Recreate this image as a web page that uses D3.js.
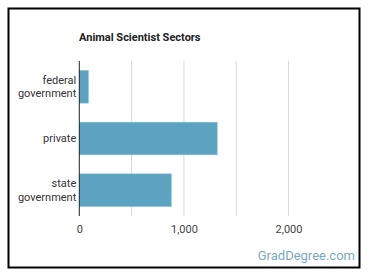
<!DOCTYPE html>
<html><head><meta charset="utf-8">
<script src="https://cdn.jsdelivr.net/npm/d3@7"></script>
<style>body{margin:0;background:#fff;}svg{display:block;}</style>
</head><body>
<script>
const categories = ["federal government", "private", "state government"];
const labelLines = [["federal","government"],["private"],["state","government"]];
const values = [86, 1318, 879];
const tickValues = [0, 1000, 2000];
const gridValues = [500, 1000, 1500, 2000];
const title = "Animal Scientist Sectors";

(function(){
const W = 370, H = 278;
const svg = d3.select("body").append("svg").attr("width", W).attr("height", H);
svg.append("rect").attr("x", 8.5).attr("y", 8.5).attr("width", 351).attr("height", 259)
  .attr("fill", "#fff").attr("stroke", "#000").attr("stroke-width", 2);

const x0 = 79.3, plotTop = 61, plotBottom = 216;
const x = d3.scaleLinear().domain([0, 2500]).range([x0, x0 + 2.5 * 104.6]);
const y = d3.scaleBand().domain(categories).range([plotTop, plotBottom]).paddingInner(0.37).paddingOuter(0.185);

svg.append("g").selectAll("line").data(gridValues).join("line")
  .attr("x1", d => x(d)).attr("x2", d => x(d)).attr("y1", plotTop).attr("y2", plotBottom)
  .attr("stroke", "#d9d9d9").attr("stroke-width", 1);

svg.append("g").selectAll("rect").data(values).join("rect")
  .attr("x", x(0)).attr("y", (d, i) => y(categories[i]))
  .attr("width", d => x(d) - x(0)).attr("height", y.bandwidth())
  .attr("fill", "#5ba3c1").attr("stroke", "#7dbcd4").attr("stroke-width", 0.6);

svg.append("line").attr("x1", x0).attr("x2", x0).attr("y1", plotTop).attr("y2", plotBottom)
  .attr("stroke", "#222").attr("stroke-width", 1);

const axis = d3.axisBottom(x).tickValues(tickValues).tickSize(0).tickFormat(d3.format(","));
const ag = svg.append("g").attr("transform", `translate(0,${plotBottom + 6})`).call(axis);
ag.select(".domain").remove();
ag.selectAll("text").attr("font-family", "Roboto, sans-serif").attr("font-size", 11).attr("fill", "#444");

const lg = svg.append("g");
categories.forEach((c, i) => {
  const lines = labelLines[i];
  const cy = y(c) + y.bandwidth() / 2;
  const lh = 13.5;
  const t = lg.append("text").attr("text-anchor", "end")
    .attr("font-family", "Roboto, sans-serif").attr("font-size", 11).attr("fill", "#333");
  lines.forEach((l, j) => {
    t.append("tspan").attr("x", x0 - 3)
      .attr("y", cy + (j - (lines.length - 1) / 2) * lh).attr("dy", "0.35em").text(l);
  });
});

svg.append("text").attr("x", 79).attr("y", 41).attr("font-family", "Roboto, sans-serif")
  .attr("font-weight", "bold").attr("font-size", 11).attr("fill", "#222").text(title);

svg.append("text").attr("x", 355).attr("y", 260).attr("text-anchor", "end")
  .attr("font-family", "Roboto, sans-serif").attr("font-size", 13).attr("fill", "#7aa9c4")
  .text("GradDegree.com");
})();
</script>
</body></html>
